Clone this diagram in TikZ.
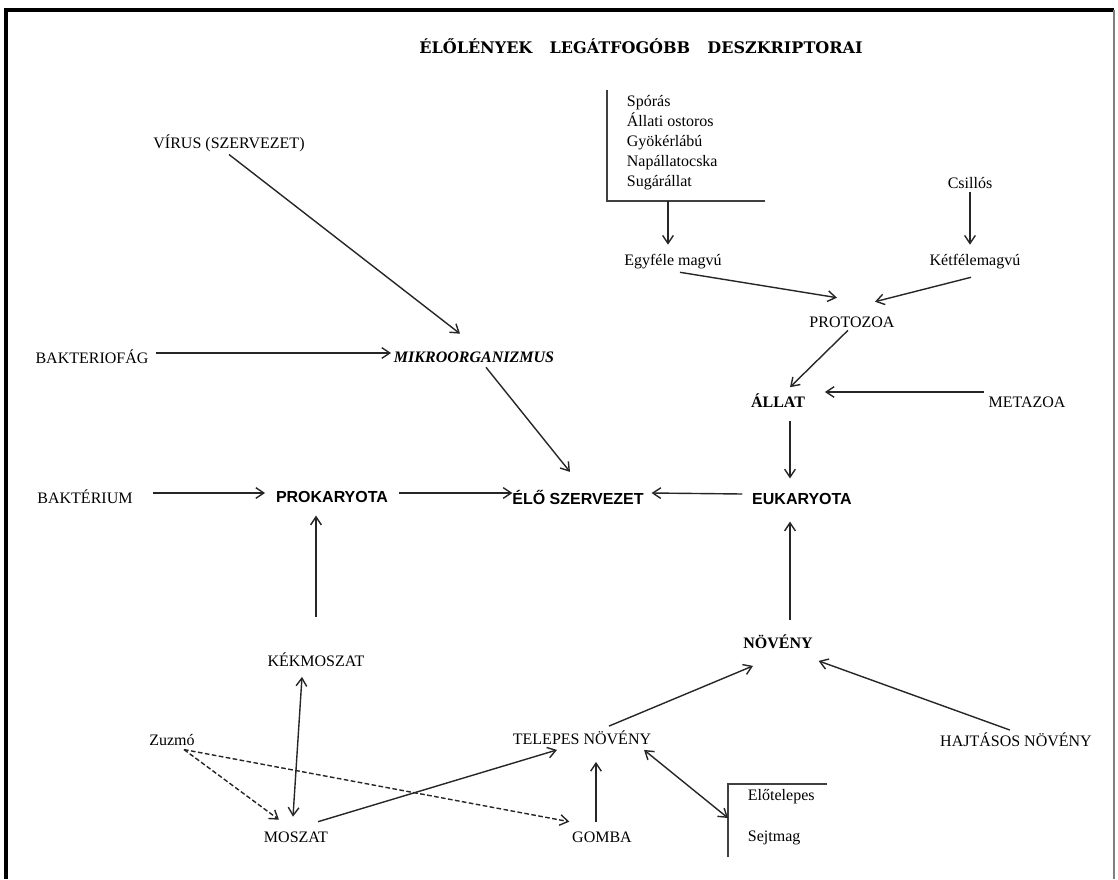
\documentclass[tikz,border=0pt]{standalone}
\usepackage{fontspec}
\setmainfont{Liberation Serif}
\newfontfamily\arialfont{Liberation Sans}
\newfontfamily\titlefont{DejaVu Serif}
\usetikzlibrary{arrows.meta,positioning,calc}

\tikzset{
  lbl/.style={inner sep=2pt, font=\fontsize{12}{15}\selectfont},
  sanslbl/.style={inner sep=2pt, font=\arialfont\bfseries\fontsize{12}{15}\selectfont},
  serifbold/.style={inner sep=2pt, font=\bfseries\fontsize{12}{15}\selectfont},
  arr/.style={draw=black!85, line width=1.05pt, -{Straight Barb[length=6pt,width=8pt]}},
  dblarr/.style={draw=black!85, line width=1.05pt, {Straight Barb[length=6pt,width=8pt]}-{Straight Barb[length=6pt,width=8pt]}},
  dasharr/.style={arr, dash pattern=on 3.5pt off 1.8pt},
  brk/.style={draw=black!75, line width=1.3pt}
}

\begin{document}
\begin{tikzpicture}[x=0.75pt, y=-0.75pt]
  \useasboundingbox (0,0) rectangle (1118,879);
  \draw[line width=2.8pt] (6,879) -- (6,10) -- (1114,10);
  \draw[black!50, line width=0.8pt] (1114,10) -- (1114,879);

  \node[inner sep=0pt, font=\titlefont\bfseries\fontsize{12}{14}\selectfont] (title) at (641,46) {ÉLŐLÉNYEK\hspace{13pt}LEGÁTFOGÓBB\hspace{13pt}DESZKRIPTORAI};

  \node[lbl] (virus) at (229,143) {VÍRUS (SZERVEZET)};
  \node[lbl, anchor=north west, align=left] (spolist) at (624,92) {Spórás\\Állati ostoros\\Gyökérlábú\\Napállatocska\\Sugárállat};
  \coordinate (spotop) at (607,90);
  \coordinate (spocorner) at (607,201);
  \coordinate (spoend) at (765,201);
  \coordinate (spofoot) at (668,201);
  \node[lbl] (egyfele) at (673,262) {Egyféle magvú};
  \node[lbl] (csillos) at (970,183) {Csillós};
  \node[lbl] (ketfele) at (975,262) {Kétfélemagvú};
  \node[lbl] (protozoa) at (852,322) {PROTOZOA};
  \node[lbl] (bakteriofag) at (92,357) {BAKTERIOFÁG};
  \node[inner sep=2pt, font=\bfseries\itshape\fontsize{12}{15}\selectfont] (mikro) at (474,357) {MIKROORGANIZMUS};
  \node[serifbold] (allat) at (778,401) {ÁLLAT};
  \node[lbl] (metazoa) at (1027,402) {METAZOA};
  \node[lbl] (bakterium) at (85,497) {BAKTÉRIUM};
  \node[sanslbl] (prokaryota) at (332,497) {PROKARYOTA};
  \node[sanslbl] (elo) at (578,497) {ÉLŐ SZERVEZET};
  \node[sanslbl] (eukaryota) at (802,499) {EUKARYOTA};
  \node[serifbold] (noveny) at (778,642) {NÖVÉNY};
  \node[lbl] (kekmoszat) at (316,660) {KÉKMOSZAT};
  \node[lbl] (zuzmo) at (172,740) {Zuzmó};
  \node[lbl] (telepes) at (582,738) {TELEPES NÖVÉNY};
  \node[lbl] (hajtasos) at (1016,740) {HAJTÁSOS NÖVÉNY};
  \node[lbl] (moszat) at (296,837) {MOSZAT};
  \node[lbl] (gomba) at (602,837) {GOMBA};
  \coordinate (brktop) at (728,784);
  \coordinate (brkend) at (827,784);
  \coordinate (brkbot) at (728,857);
  \coordinate (brkmid) at (728,818);
  \node[lbl, anchor=west] (elotelepes) at (745,797) {Előtelepes};
  \node[lbl, anchor=west] (sejtmag) at (745,838) {Sejtmag};
  \coordinate (ecol) at (790,0);
  \coordinate (gcol) at (596,0);

  \draw[brk] (spotop) -- (spocorner) -- (spoend);
  \draw[brk] (brkend) -- (brktop) -- (brkbot);

  \draw[arr] (virus.south) -- ([shift={(-14,-15)}]mikro.north);
  \draw[arr] (spofoot) -- ([shift={(-5,-7)}]egyfele.north);
  \draw[arr] (csillos.south) -- ([shift={(-5,-7)}]ketfele.north);
  \draw[arr] ([shift={(7,0)}]egyfele.south) -- ([shift={(-15,-16)}]protozoa.north);
  \draw[arr] ([shift={(-4,5)}]ketfele.south) -- ([shift={(23,-12)}]protozoa.north);
  \draw[arr] ([shift={(-4,0)}]protozoa.south) -- ([shift={(12,-4)}]allat.north);
  \draw[arr] ([shift={(-2,-10)}]metazoa.west) -- ([shift={(17,-9)}]allat.east);
  \draw[arr] ([shift={(0,10)}]allat.south -| ecol) -- ([shift={(0,-12)}]eukaryota.north -| ecol);
  \draw[arr] ([shift={(0,-12)}]noveny.north -| ecol) -- ([shift={(0,14)}]eukaryota.south -| ecol);
  \draw[arr] ([shift={(-7,-5)}]eukaryota.west) -- ([shift={(5,-4)}]elo.east);
  \draw[arr] ([shift={(8,-4)}]prokaryota.east) -- ([shift={(3,-4)}]elo.west);
  \draw[arr] ([shift={(18,-4)}]bakterium.east) -- ([shift={(-8,-4)}]prokaryota.west);
  \draw[arr] ([shift={(5,-4)}]bakteriofag.east) -- ([shift={(0,-4)}]mikro.west);
  \draw[arr] ([shift={(12,2)}]mikro.south) -- ([shift={(-8,-15)}]elo.north);
  \draw[arr] ([shift={(0,-33)}]kekmoszat.north) -- ([shift={(-16,10)}]prokaryota.south);
  \draw[dblarr] ([shift={(-14,7)}]kekmoszat.south) -- ([shift={(-3,-12)}]moszat.north);
  \draw[dasharr] ([shift={(12,1)}]zuzmo.south) -- ([shift={(-17,-9)}]moszat.north);
  \draw[dasharr] ([shift={(12,1)}]zuzmo.south) -- ([shift={(0,-7)}]gomba.north west);
  \draw[arr] ([shift={(22,-7)}]moszat.north) -- ([shift={(-25,2)}]telepes.south);
  \draw[arr] ([shift={(0,-7)}]gomba.north -| gcol) -- ([shift={(0,14)}]telepes.south -| gcol);
  \draw[dblarr] ([shift={(-10,2)}]telepes.south east) -- (brkmid);
  \draw[arr] ([shift={(27,-2)}]telepes.north) -- ([shift={(-25,14)}]noveny.south);
  \draw[arr] ([shift={(-6,0)}]hajtasos.north) -- ([shift={(3,9)}]noveny.south east);
\end{tikzpicture}
\end{document}
